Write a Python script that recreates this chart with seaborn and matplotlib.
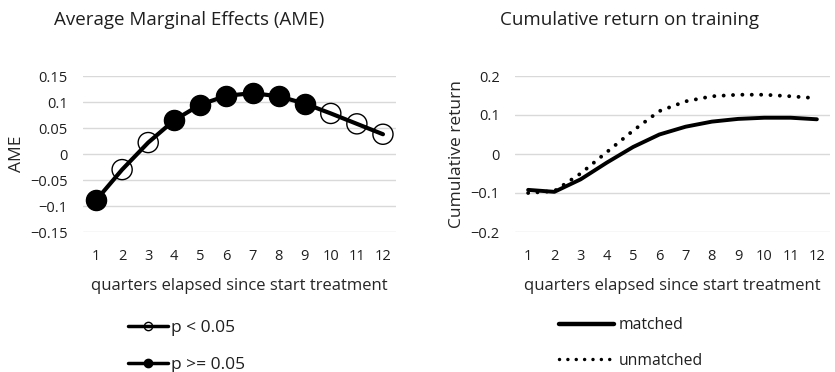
import matplotlib
matplotlib.use("Agg")
import matplotlib.pyplot as plt
from matplotlib.lines import Line2D
import seaborn as sns
import pandas as pd

quarters = list(range(1, 13))
ame = [-0.089, -0.030, 0.022, 0.065, 0.095, 0.112, 0.117, 0.111, 0.097, 0.078, 0.058, 0.038]
significant = ["p >= 0.05", "p < 0.05", "p < 0.05", "p >= 0.05", "p >= 0.05", "p >= 0.05",
               "p >= 0.05", "p >= 0.05", "p >= 0.05", "p < 0.05", "p < 0.05", "p < 0.05"]
matched = [-0.092, -0.097, -0.065, -0.022, 0.018, 0.050, 0.070, 0.083, 0.090, 0.093, 0.093, 0.089]
unmatched = [-0.100, -0.095, -0.050, 0.005, 0.060, 0.110, 0.135, 0.148, 0.152, 0.152, 0.148, 0.143]

ame_ticks = [-0.15, -0.1, -0.05, 0, 0.05, 0.1, 0.15]
ame_ticklabels = ["\u22120.15", "\u22120.1", "\u22120.05", "0", "0.05", "0.1", "0.15"]
cum_ticks = [-0.2, -0.1, 0, 0.1, 0.2]
cum_ticklabels = ["\u22120.2", "\u22120.1", "0", "0.1", "0.2"]

sns.set_theme(style="white")
plt.rcParams["font.family"] = ["Open Sans", "DejaVu Sans"]
plt.rcParams["text.color"] = "#1f1f1f"

df_ame = pd.DataFrame({"q": quarters, "ame": ame, "sig": significant})
df_cum = pd.DataFrame({
    "q": quarters * 2,
    "ret": matched + unmatched,
    "group": ["matched"] * 12 + ["unmatched"] * 12,
})

fig = plt.figure(figsize=(8.35, 3.72), dpi=100)
ax1 = fig.add_axes([83 / 835, 1 - 232 / 372, (396 - 83) / 835, (232 - 76) / 372])
ax2 = fig.add_axes([515 / 835, 1 - 232 / 372, (830 - 515) / 835, (232 - 76) / 372])

DOT = (0.01, 2.4)

# Left: AME
sns.lineplot(data=df_ame, x="q", y="ame", ax=ax1, color="black", lw=3.0, legend=False, zorder=2)
filled = df_ame[df_ame["sig"] == "p >= 0.05"]
hollow = df_ame[df_ame["sig"] == "p < 0.05"]
sns.scatterplot(data=filled, x="q", y="ame", ax=ax1, color="black",
                edgecolor="black", linewidth=1.0, s=210, legend=False, zorder=3)
sns.scatterplot(data=hollow, x="q", y="ame", ax=ax1, facecolor="none",
                edgecolor="black", linewidth=1.0, s=210, legend=False, zorder=3)
ax1.set_ylim(-0.15, 0.15)
ax1.set_yticks(ame_ticks)
ax1.set_yticklabels(ame_ticklabels)
ax1.set_ylabel("AME", fontsize=12.5, labelpad=4)

# Right: cumulative return
sns.lineplot(data=df_cum, x="q", y="ret", hue="group", style="group", ax=ax2,
             palette={"matched": "black", "unmatched": "black"},
             dashes={"matched": "", "unmatched": DOT}, lw=2.8, legend=False)
for ln in ax2.get_lines():
    ln.set_dash_capstyle("round")
ax2.set_ylim(-0.2, 0.2)
ax2.set_yticks(cum_ticks)
ax2.set_yticklabels(cum_ticklabels)
ax2.set_ylabel("Cumulative return", fontsize=12.5, labelpad=4)

for ax in (ax1, ax2):
    ax.set_xlim(0.5, 12.5)
    ax.set_xticks(quarters)
    ax.set_xlabel("quarters elapsed since start treatment", fontsize=12, labelpad=10)
    ax.grid(axis="y", color="#d9d9d9", lw=1.0)
    ax.grid(axis="x", visible=False)
    for s in ax.spines.values():
        s.set_visible(False)
    ax.tick_params(axis="x", length=0, labelsize=10.5, colors="#1f1f1f", pad=12)
    ax.tick_params(axis="y", length=0, labelsize=10.5, colors="#1f1f1f", pad=11)
    ax.set_axisbelow(True)

fig.text(189 / 835, 1 - 20 / 372, "Average Marginal Effects (AME)", ha="center", va="center", fontsize=13.5)
fig.text(630 / 835, 1 - 20 / 372, "Cumulative return on training", ha="center", va="center", fontsize=13.5)

# Legends
h1 = [Line2D([], [], color="black", lw=2.5, marker="o", markersize=6,
             markerfacecolor="none", markeredgecolor="black", markeredgewidth=1.0),
      Line2D([], [], color="black", lw=2.5, marker="o", markersize=6,
             markerfacecolor="black", markeredgecolor="black")]
fig.legend(h1, ["p < 0.05", "p >= 0.05"], loc="upper left",
           bbox_to_anchor=(128 / 835, 1 - 320 / 372), frameon=False, fontsize=12.5,
           borderpad=0, borderaxespad=0, handlelength=2.3, handletextpad=0.15, labelspacing=1.22)
h2 = [Line2D([], [], color="black", lw=3.2),
      Line2D([], [], color="black", lw=2.5, linestyle=(0, DOT), dash_capstyle="round")]
fig.legend(h2, ["matched", "unmatched"], loc="upper left",
           bbox_to_anchor=(559 / 835, 1 - 317 / 372), frameon=False, fontsize=11.3,
           borderpad=0, borderaxespad=0, handlelength=3.5, handletextpad=0.3, labelspacing=1.25)

fig.savefig("out.png", dpi=100)
